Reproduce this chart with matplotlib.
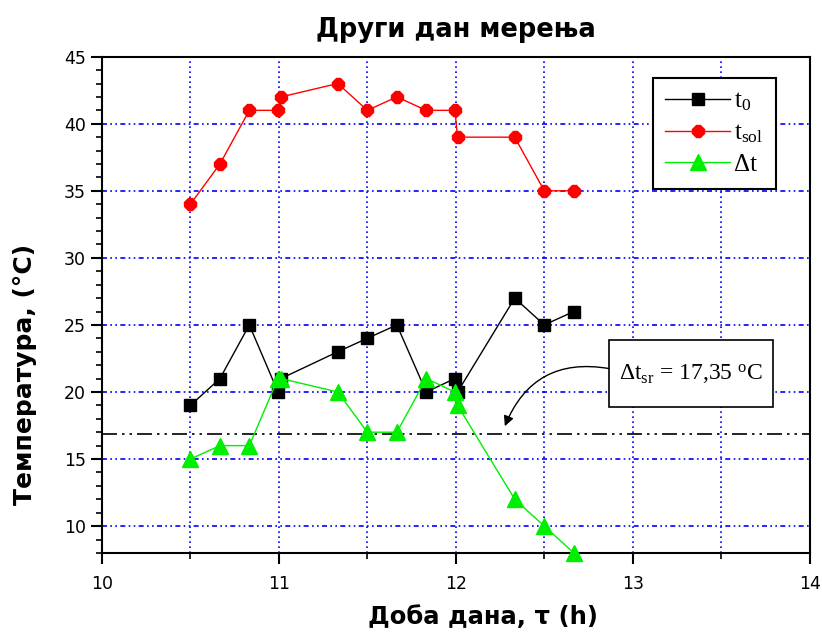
import numpy as np
import matplotlib
matplotlib.use("Agg")
import matplotlib.pyplot as plt
from matplotlib.patches import Rectangle
from matplotlib.ticker import MultipleLocator

plt.rcParams["mathtext.fontset"] = "custom"
plt.rcParams["mathtext.rm"] = "Liberation Serif"
plt.rcParams["mathtext.it"] = "Liberation Serif:italic"

# vreme merenja (h) i temperature (°C)
vreme = [10.5, 10.667, 10.833, 10.995, 11.012, 11.333, 11.5, 11.667, 11.833, 11.995, 12.01, 12.333, 12.5, 12.667]
t_0 = [19, 21, 25, 20, 21, 23, 24, 25, 20, 21, 20, 27, 25, 26]
t_sol = [34, 37, 41, 41, 42, 43, 41, 42, 41, 41, 39, 39, 35, 35]
delta_t = [15, 16, 16, 21, 21, 20, 17, 17, 21, 20, 19, 12, 10, 8]
dt_sr = 16.9
dt_sr_tekst = "17,35"

fig = plt.figure(figsize=(8.22, 6.37), dpi=100)
ax = fig.add_axes([0.124, 0.132, 0.861, 0.779])

ax.plot(vreme, t_0, "-s", color="black", mfc="black", ms=8, lw=1, label=r"t$_\mathrm{0}$", clip_on=False, zorder=3)
ax.plot(vreme, t_sol, "-8", color="red", mfc="red", ms=9, lw=1, label=r"t$_\mathrm{sol}$", clip_on=False, zorder=3)
ax.plot(vreme, delta_t, "-^", color="#00ee00", mfc="#00ee00", ms=11, lw=1, label="Δt", clip_on=False, zorder=4)

ax.axhline(dt_sr, color="black", lw=1.2, ls=(0, (9, 3, 1.5, 3, 1.5, 3)), zorder=2)

# okvir sa srednjom vrednoscu i strelica
ax.add_patch(Rectangle((12.864, 18.87), 0.926, 5.04, fc="white", ec="black", lw=1.2, zorder=5))
ax.text(13.33, 21.35, r"Δt$_\mathrm{sr}$ = " + dt_sr_tekst + r" $^\mathrm{o}$C", ha="center", va="center",
        fontsize=17, family="Liberation Serif", zorder=6)
ax.annotate("", xy=(12.277, 17.45), xytext=(12.864, 21.75),
            arrowprops=dict(arrowstyle="-|>", color="black", lw=1, shrinkA=0, shrinkB=0,
                            connectionstyle="arc3,rad=0.4", mutation_scale=15), zorder=5)

ax.set_xlim(10, 14)
ax.set_ylim(8, 45)
ax.xaxis.set_major_locator(MultipleLocator(1))
ax.xaxis.set_minor_locator(MultipleLocator(0.5))
ax.yaxis.set_major_locator(MultipleLocator(5))
ax.yaxis.set_minor_locator(MultipleLocator(1))
ax.tick_params(which="major", direction="out", length=8, width=1.5, labelsize=12.5)
ax.tick_params(which="minor", direction="out", length=4, width=1.2)
ax.tick_params(axis="x", pad=8)
for s in ax.spines.values():
    s.set_linewidth(1.5)

# mreza
for xv in np.arange(10.5, 14, 0.5):
    ax.axvline(xv, color="blue", lw=1.2, ls=(0, (1, 2)), zorder=1)
for yv in range(10, 45, 5):
    ax.axhline(yv, color="blue", lw=1.2, ls=(0, (3, 2, 1, 2, 1, 2)), zorder=1)

ax.set_title("Други дан мерења", fontsize=18.5, fontweight="bold", pad=14)
ax.set_xlabel("Доба дана, τ (h)", fontsize=17.5, fontweight="bold")
ax.set_ylabel("Температура, (°C)", fontsize=18, fontweight="bold")
ax.xaxis.set_label_coords(0.538, -0.105)
ax.yaxis.set_label_coords(-0.092, 0.36)

leg = ax.legend(loc="upper right", bbox_to_anchor=(0.952, 0.958), borderaxespad=0, fancybox=False,
                framealpha=1, edgecolor="black", prop={"family": "Liberation Serif", "size": 18},
                handlelength=2.6, borderpad=0.5, labelspacing=0.35, handletextpad=0.15)
leg.get_frame().set_linewidth(1.5)

fig.savefig("out.png", dpi=100)
